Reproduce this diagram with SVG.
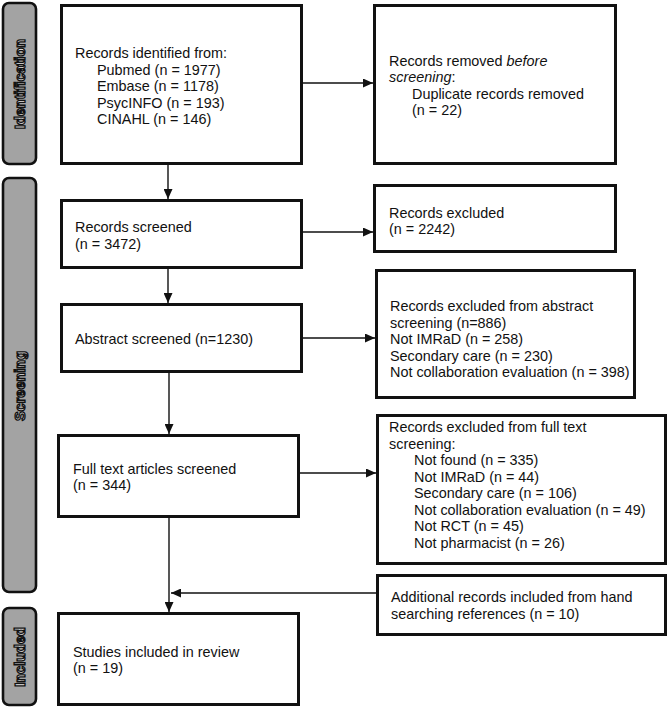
<svg xmlns="http://www.w3.org/2000/svg" width="669" height="708" viewBox="0 0 669 708">
<style>
  .box{fill:#fff;stroke:#111;stroke-width:3}
  .bar{fill:#a3a3a3;stroke:#111;stroke-width:2.6}
  .t{font-family:"Liberation Sans",Arial,sans-serif;font-size:14.4px;fill:#111}
  .lbl{font-family:"Liberation Sans",Arial,sans-serif;font-size:14.5px;font-weight:bold;fill:#fff;stroke:#111;stroke-width:1.3;text-anchor:middle}
  .c{fill:none;stroke:#111;stroke-width:1.4}
</style>
<defs>
  <marker id="ah" markerUnits="userSpaceOnUse" markerWidth="11" markerHeight="9" refX="10" refY="4.5" orient="auto">
    <path d="M0,0 L10,4.5 L0,9 z" fill="#111"/>
  </marker>
</defs>
<rect width="669" height="708" fill="#fff"/>

<g id="phase-identification">
  <rect class="bar" x="3" y="3" width="33" height="161" rx="6"/>
  <text class="lbl" transform="translate(25,84) rotate(-90)">Identification</text>
</g>
<g id="phase-screening">
  <rect class="bar" x="3" y="178" width="33" height="414" rx="6"/>
  <text class="lbl" transform="translate(25,386) rotate(-90)">Screening</text>
</g>
<g id="phase-included">
  <rect class="bar" x="3" y="608" width="33" height="97" rx="6"/>
  <text class="lbl" transform="translate(25,657) rotate(-90)">Included</text>
</g>

<g id="connectors">
  <line class="c" x1="168" y1="164" x2="168" y2="199" marker-end="url(#ah)"/>
  <line class="c" x1="302" y1="83" x2="373" y2="83" marker-end="url(#ah)"/>
  <line class="c" x1="302" y1="232" x2="373" y2="232" marker-end="url(#ah)"/>
  <line class="c" x1="168" y1="268" x2="168" y2="303" marker-end="url(#ah)"/>
  <line class="c" x1="302" y1="338" x2="375" y2="338" marker-end="url(#ah)"/>
  <line class="c" x1="169" y1="372" x2="169" y2="434" marker-end="url(#ah)"/>
  <line class="c" x1="299" y1="473" x2="376" y2="473" marker-end="url(#ah)"/>
  <line class="c" x1="169" y1="517" x2="169" y2="612" marker-end="url(#ah)"/>
  <line class="c" x1="377" y1="593" x2="171" y2="593" marker-end="url(#ah)"/>
</g>

<g id="identified">
  <rect class="box" x="61.5" y="5.5" width="240" height="158"/>
  <text class="t" x="75" y="58">Records identified from:</text>
  <text class="t" x="97" y="74.5">Pubmed (n = 1977)</text>
  <text class="t" x="97" y="91">Embase (n = 1178)</text>
  <text class="t" x="97" y="107.5">PsycINFO (n = 193)</text>
  <text class="t" x="97" y="124">CINAHL (n = 146)</text>
</g>
<g id="removed">
  <rect class="box" x="374.5" y="5.5" width="241" height="158"/>
  <text class="t" x="389" y="65.5">Records removed <tspan font-style="italic">before</tspan></text>
  <text class="t" x="389" y="82"><tspan font-style="italic">screening</tspan>:</text>
  <text class="t" x="412" y="98.5">Duplicate records removed</text>
  <text class="t" x="412" y="115">(n = 22)</text>
</g>
<g id="screened">
  <rect class="box" x="61.5" y="200.5" width="240" height="67"/>
  <text class="t" x="75" y="232">Records screened</text>
  <text class="t" x="75" y="248.5">(n = 3472)</text>
</g>
<g id="excluded">
  <rect class="box" x="374.5" y="185.5" width="241" height="66"/>
  <text class="t" x="389" y="217.5">Records excluded</text>
  <text class="t" x="389" y="234">(n = 2242)</text>
</g>
<g id="abstract">
  <rect class="box" x="61.5" y="304.5" width="240" height="67"/>
  <text class="t" x="75" y="343.5">Abstract screened (n=1230)</text>
</g>
<g id="abstract-excluded">
  <rect class="box" x="376.5" y="270.5" width="258" height="127"/>
  <text class="t" x="390" y="311">Records excluded from abstract</text>
  <text class="t" x="390" y="327.5">screening (n=886)</text>
  <text class="t" x="390" y="344">Not IMRaD (n = 258)</text>
  <text class="t" x="390" y="360.5">Secondary care (n = 230)</text>
  <text class="t" x="390" y="377">Not collaboration evaluation (n = 398)</text>
</g>
<g id="fulltext">
  <rect class="box" x="58.5" y="435.5" width="240" height="81"/>
  <text class="t" x="73" y="473.5">Full text articles screened</text>
  <text class="t" x="73" y="490">(n = 344)</text>
</g>
<g id="fulltext-excluded">
  <rect class="box" x="377.5" y="415.5" width="288" height="148"/>
  <text class="t" x="389" y="432">Records excluded from full text</text>
  <text class="t" x="389" y="448.5">screening:</text>
  <text class="t" x="414" y="465">Not found (n = 335)</text>
  <text class="t" x="414" y="481.5">Not IMRaD (n = 44)</text>
  <text class="t" x="414" y="498">Secondary care (n = 106)</text>
  <text class="t" x="414" y="514.5">Not collaboration evaluation (n = 49)</text>
  <text class="t" x="414" y="531">Not RCT (n = 45)</text>
  <text class="t" x="414" y="547.5">Not pharmacist (n = 26)</text>
</g>
<g id="additional">
  <rect class="box" x="377.5" y="575.5" width="288" height="59"/>
  <text class="t" x="391" y="602">Additional records included from hand</text>
  <text class="t" x="391" y="618.5">searching references (n = 10)</text>
</g>
<g id="included">
  <rect class="box" x="58.5" y="613.5" width="240" height="91"/>
  <text class="t" x="73" y="656.5">Studies included in review</text>
  <text class="t" x="73" y="673">(n = 19)</text>
</g>
</svg>
